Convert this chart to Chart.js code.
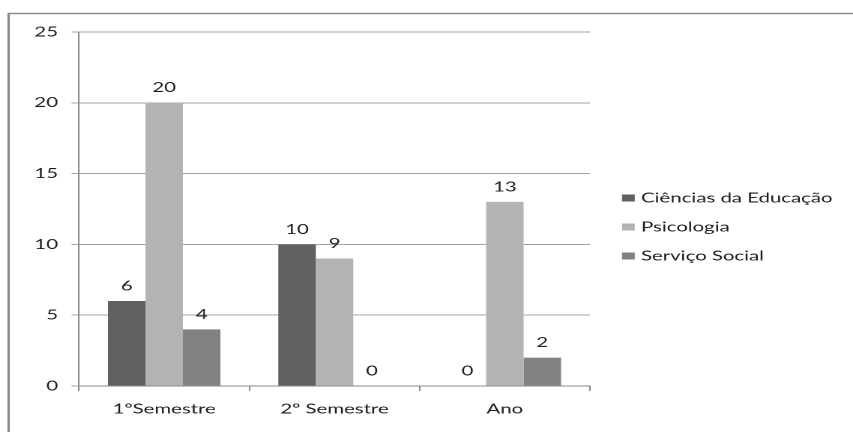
<!DOCTYPE html>
<html>
<head>
<meta charset="utf-8">
<script src="https://cdn.jsdelivr.net/npm/chart.js@4/dist/chart.umd.min.js"></script>
<style>
  html, body { margin: 0; padding: 0; background: #fff; }
  #wrap { width: 853px; height: 432px; overflow: hidden; position: relative; }
  /* the chart is laid out narrow and widened horizontally */
  #c { position: absolute; left: 0; top: 0; transform-origin: 0 0; }
</style>
</head>
<body>
<div id="wrap"><canvas id="c" width="569" height="432"></canvas></div>
<script>
const categories = ['1ºSemestre', '2º Semestre', 'Ano'];
const seriesNames = ['Ciências da Educação', 'Psicologia', 'Serviço Social'];
const cienciasEducacao = [6, 10, 0];
const psicologia = [20, 9, 13];
const servicoSocial = [4, 0, 2];
const yTicks = [0, 5, 10, 15, 20, 25];

const colors = ['#606060', '#b3b3b3', '#828282'];
const FONT = { family: 'Lato', size: 13.6 };
const TEXT = '#1e1e1e';

const W = 569, H = 432;
const STRETCH = 853 / W;
document.getElementById('c').style.transform = 'scaleX(' + STRETCH + ')';

// plot box edges in canvas units
const LEFT = 79 / STRETCH;
const RIGHT = 590 / STRETCH;
const TOP = 32;
const BOTTOM = 386;

const frame = {
  id: 'frame',
  beforeDraw(chart) {
    const ctx = chart.ctx;
    ctx.save();
    ctx.fillStyle = '#fff';
    ctx.fillRect(0, 0, W, H);
    ctx.strokeStyle = '#8a8a8a';
    ctx.lineWidth = 1.6;
    ctx.beginPath();
    ctx.moveTo(8.6 / STRETCH, H + 5);
    ctx.lineTo(8.6 / STRETCH, 13.5);
    ctx.lineTo(W + 5, 13.5);
    ctx.stroke();
    ctx.restore();
  }
};

const valueLabels = {
  id: 'valueLabels',
  afterDatasetsDraw(chart) {
    const ctx = chart.ctx;
    ctx.save();
    ctx.font = FONT.size + 'px ' + FONT.family;
    ctx.fillStyle = TEXT;
    ctx.textAlign = 'center';
    ctx.textBaseline = 'middle';
    chart.data.datasets.forEach((ds, i) => {
      chart.getDatasetMeta(i).data.forEach((bar, j) => {
        ctx.fillText(String(ds.data[j]), bar.x, bar.y - 15);
      });
    });
    ctx.restore();
  }
};

const sideLegend = {
  id: 'sideLegend',
  afterDraw(chart) {
    const ctx = chart.ctx;
    const rows = [198, 227, 256];
    const x0 = 622 / STRETCH;
    ctx.save();
    ctx.font = FONT.size + 'px ' + FONT.family;
    ctx.fillStyle = TEXT;
    ctx.textBaseline = 'middle';
    chart.data.datasets.forEach((ds, i) => {
      ctx.fillStyle = ds.backgroundColor;
      ctx.fillRect(x0, rows[i] - 3.5, 8.5, 7);
      ctx.fillStyle = TEXT;
      ctx.fillText(ds.label, 641 / STRETCH, rows[i]);
    });
    ctx.restore();
  }
};

new Chart(document.getElementById('c'), {
  type: 'bar',
  data: {
    labels: categories,
    datasets: [
      { label: seriesNames[0], data: cienciasEducacao, backgroundColor: colors[0] },
      { label: seriesNames[1], data: psicologia, backgroundColor: colors[1] },
      { label: seriesNames[2], data: servicoSocial, backgroundColor: colors[2] }
    ]
  },
  options: {
    responsive: false,
    animation: false,
    devicePixelRatio: 2,
    layout: { padding: { left: 0, top: TOP, right: W - RIGHT, bottom: 0 } },
    datasets: { bar: { categoryPercentage: 0.66, barPercentage: 1.0 } },
    plugins: { legend: { display: false }, tooltip: { enabled: false } },
    scales: {
      x: {
        afterFit(s) { s.height = H - BOTTOM; },
        grid: { offset: true, drawOnChartArea: false, drawTicks: true, tickLength: 5, color: '#8a8a8a' },
        border: { display: true, color: '#8a8a8a' },
        ticks: { font: FONT, color: TEXT, padding: 10, maxRotation: 0 }
      },
      y: {
        min: 0, max: 25,
        afterFit(s) { s.width = LEFT; },
        afterBuildTicks(s) { s.ticks = yTicks.map(v => ({ value: v })); },
        grid: { color: '#a3a3a3', tickLength: 5, drawTicks: true },
        border: { display: true, color: '#8a8a8a' },
        ticks: { font: FONT, color: TEXT, padding: 9 }
      }
    }
  },
  plugins: [frame, valueLabels, sideLegend]
});
</script>
</body>
</html>
